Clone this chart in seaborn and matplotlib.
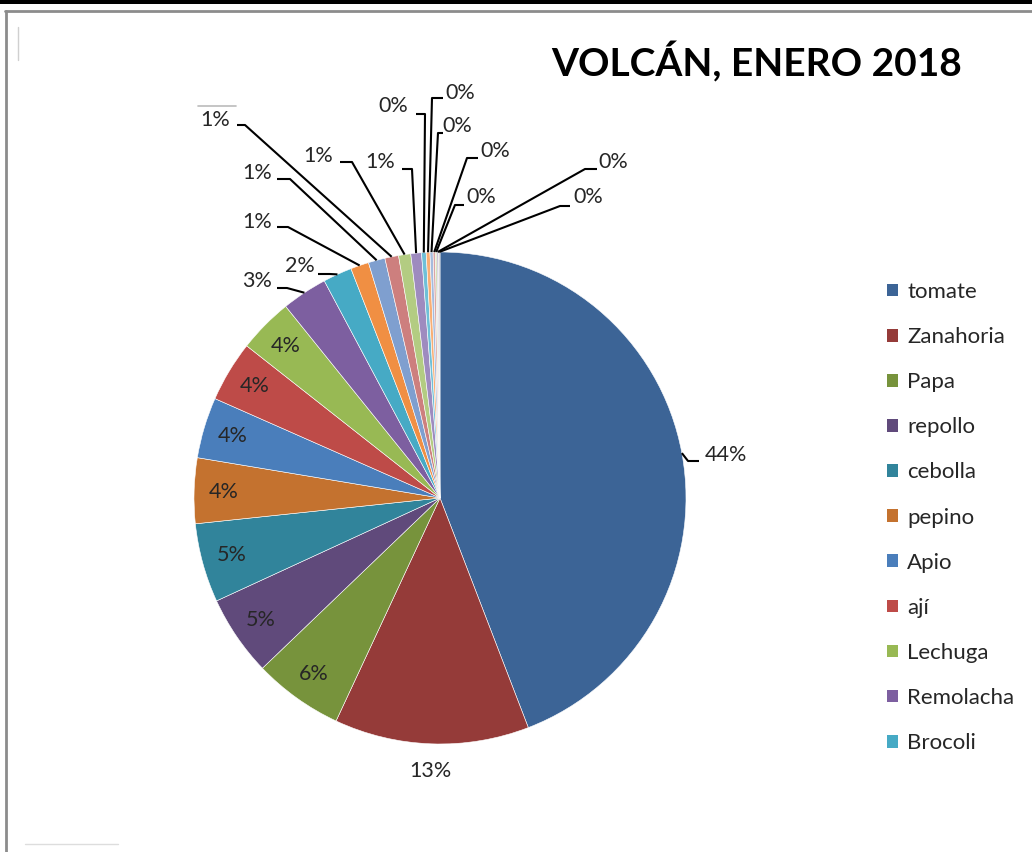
import numpy as np
import pandas as pd
import seaborn as sns
import matplotlib.pyplot as plt
from matplotlib.patches import Patch, Rectangle

W, H = 1032, 852

# Data (percent of total)
cultivos = ['tomate', 'Zanahoria', 'Papa', 'repollo', 'cebolla', 'pepino',
            'Apio', 'ají', 'Lechuga', 'Remolacha', 'Brocoli']
pct_cultivos = [44.2, 12.8, 5.9, 5.3, 5.2, 4.3, 4.0, 4.0, 3.6, 3.0, 1.9]
# slices not shown in the legend (labelled 1% and 0% in the chart)
otros_uno = ['otro 1', 'otro 2', 'otro 3', 'otro 4', 'otro 5']
pct_uno = [1.2, 1.1, 0.9, 0.8, 0.7]
otros_cero = ['otro 6', 'otro 7', 'otro 8', 'otro 9', 'otro 10', 'otro 11', 'otro 12']
pct_cero = [0.3, 0.25, 0.2, 0.15, 0.1, 0.1, 0.1]

TITLE = 'VOLCÁN, ENERO 2018'

COLORS = ['#3C6496', '#953B39', '#77933C', '#604A7B', '#31849B', '#C4722F',
          '#4A7EBB', '#BE4B48', '#98B954', '#7D5FA0', '#46AAC5',
          '#F08F43', '#7F9FCF', '#CD7F7E', '#B3CC82', '#9E8BBF',
          '#6FC0D8', '#F9AE74', '#A5BBDD', '#DBA5A4', '#C8DBA6', '#BBAFD1', '#C9C9C9']

# pie geometry in pixels (y measured from the top)
CX, CY, R = 440, 498, 246

# outside labels: index -> (text centre, elbow of leader, end of short stub)
OUTSIDE = {
    0: ((726, 455), (688, 461), (699, 461)),
    9: ((257, 281), (287, 288), (277, 288)),
    10: ((300, 266), (330, 274), (318, 274)),
    11: ((257, 222), (288, 227), (277, 227)),
    12: ((257, 173), (290, 179), (277, 179)),
    13: ((215, 120), (245, 125), (237, 125)),
    14: ((318, 156), (352, 162), (340, 162)),
    15: ((380, 162), (412, 169), (402, 169)),
    16: ((393, 106), (425, 114), (416, 114)),
    17: ((460, 93), (432, 98), (443, 98)),
    18: ((457, 126), (438, 133), (443, 133)),
    19: ((495, 151), (467, 158), (478, 158)),
    20: ((481, 197), (455, 205), (464, 205)),
    21: ((613, 162), (585, 169), (597, 169)),
    22: ((588, 197), (560, 206), (570, 206)),
}


def px(x, y):
    return x, H - y


df = pd.DataFrame({
    'producto': cultivos + otros_uno + otros_cero,
    'pct': pct_cultivos + pct_uno + pct_cero,
})
df['etiqueta'] = (df['pct'] / df['pct'].sum() * 100).round().astype(int).astype(str) + '%'

sns.set_theme(style='white')
plt.rcParams['font.family'] = ['Lato', 'DejaVu Sans']
palette = sns.color_palette(COLORS)

fig = plt.figure(figsize=(W / 100, H / 100), dpi=100)
ax = fig.add_axes([0, 0, 1, 1])

wedges, _ = ax.pie(df['pct'], colors=palette, startangle=90, counterclock=False,
                   center=px(CX, CY), radius=R,
                   wedgeprops=dict(edgecolor='white', linewidth=0.4))
ax.set_xlim(0, W)
ax.set_ylim(0, H)
ax.axis('off')

lbl_kw = dict(fontsize=15.5, color='#262626', ha='center', va='center')
for i, w in enumerate(wedges):
    ang = np.deg2rad((w.theta1 + w.theta2) / 2)
    cx, cy = px(CX, CY)
    if i in OUTSIDE:
        (tx, ty), (ex, ey), (sx, sy) = OUTSIDE[i]
        start = (cx + R * np.cos(ang), cy + R * np.sin(ang))
        xs = [start[0], ex, sx]
        ys = [start[1], H - ey, H - sy]
        ax.plot(xs, ys, color='black', lw=1.5, solid_capstyle='butt')
        ax.text(*px(tx, ty), df['etiqueta'][i], **lbl_kw)
    elif i == 1:
        d = 1.11 * R
        ax.text(cx + d * np.cos(ang), cy + d * np.sin(ang), df['etiqueta'][i], **lbl_kw)
    else:
        d = 0.88 * R
        ax.text(cx + d * np.cos(ang), cy + d * np.sin(ang), df['etiqueta'][i], **lbl_kw)

fig.text(757 / W, 1 - 62 / H, TITLE, ha='center', va='center',
         fontsize=28, fontweight='bold', color='black')

handles = [Patch(facecolor=palette[i], edgecolor='none') for i in range(len(cultivos))]
fig.legend(handles, cultivos, loc='upper left', bbox_to_anchor=(887 / W, 1 - 282 / H),
           frameon=False, fontsize=16, handlelength=0.5, handleheight=0.5,
           handletextpad=0.4, labelspacing=1.13, borderpad=0, borderaxespad=0)

# window frame around the chart
fig.add_artist(Rectangle((0, 1 - 4 / H), 1, 4 / H, transform=fig.transFigure,
                         color='black', lw=0))
fig.add_artist(plt.Line2D([5 / W, 1], [1 - 11 / H] * 2, transform=fig.transFigure,
                          color='#8C8C8C', lw=2))
fig.add_artist(plt.Line2D([6 / W] * 2, [0, 1 - 11 / H], transform=fig.transFigure,
                          color='#8C8C8C', lw=2))
fig.add_artist(plt.Line2D([18 / W] * 2, [1 - 27 / H, 1 - 60 / H], transform=fig.transFigure,
                          color='#D0D0D0', lw=1))
fig.add_artist(plt.Line2D([25 / W, 118 / W], [1 - 844 / H] * 2, transform=fig.transFigure,
                          color='#DDDDDD', lw=1))
fig.add_artist(plt.Line2D([198 / W, 236 / W], [1 - 106 / H] * 2, transform=fig.transFigure,
                          color='#BBBBBB', lw=1.2))

fig.savefig('out.png', dpi=100)
